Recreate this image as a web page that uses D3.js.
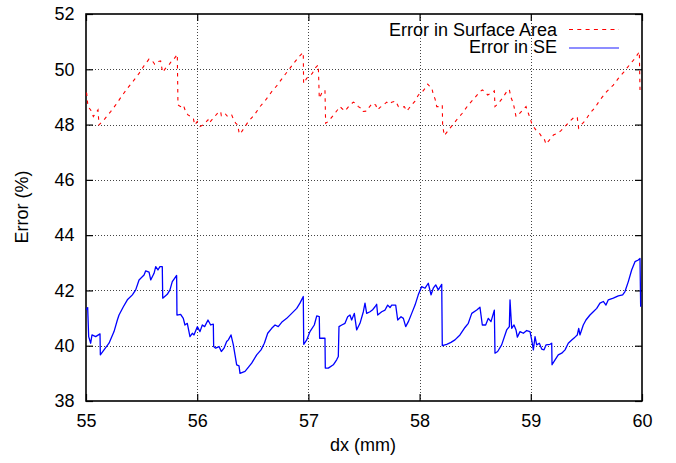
<!DOCTYPE html>
<html><head><meta charset="utf-8">
<script src="https://cdn.jsdelivr.net/npm/d3@7"></script>
<style>
body{margin:0;background:#fff;}
svg{display:block;font-family:"Liberation Sans",Arial,Helvetica,sans-serif;}
</style></head>
<body><svg id="chart" width="676" height="463"></svg>
<script>
const xTicks = [55, 56, 57, 58, 59, 60];
const yTicks = [38, 40, 42, 44, 46, 48, 50, 52];
const xLabel = "dx (mm)";
const yLabel = "Error (%)";
const seriesNames = ["Error in Surface Area", "Error in SE"];

const surfaceArea = [[55.000,49.15],[55.006,49.13],[55.018,48.65],[55.042,48.53],[55.066,48.29],[55.087,48.41],[55.108,48.53],[55.117,47.99],[55.162,48.17],[55.222,48.47],[55.267,48.71],[55.318,49.01],[55.372,49.31],[55.426,49.58],[55.477,49.85],[55.522,50.13],[55.567,50.37],[55.597,50.30],[55.618,50.18],[55.647,50.28],[55.671,50.30],[55.689,49.89],[55.716,50.04],[55.746,50.16],[55.776,50.34],[55.791,50.37],[55.821,50.54],[55.827,48.71],[55.851,48.65],[55.875,48.71],[55.896,48.47],[55.917,48.35],[55.941,48.29],[55.965,48.23],[55.977,47.99],[56.001,48.11],[56.025,47.93],[56.061,48.01],[56.097,48.17],[56.106,48.05],[56.157,48.29],[56.196,48.47],[56.211,48.47],[56.217,48.32],[56.250,48.40],[56.274,48.29],[56.310,48.35],[56.325,48.20],[56.346,48.05],[56.364,47.99],[56.376,47.72],[56.385,47.65],[56.424,47.89],[56.460,48.11],[56.514,48.35],[56.565,48.65],[56.616,48.89],[56.670,49.19],[56.721,49.43],[56.775,49.73],[56.829,50.01],[56.880,50.28],[56.916,50.46],[56.954,50.61],[56.957,49.49],[56.984,49.67],[57.035,49.85],[57.059,50.04],[57.089,50.16],[57.098,48.95],[57.119,49.13],[57.149,49.25],[57.155,48.05],[57.179,48.11],[57.203,48.23],[57.239,48.41],[57.284,48.65],[57.299,48.59],[57.329,48.49],[57.365,48.67],[57.404,48.81],[57.425,48.77],[57.449,48.65],[57.473,48.59],[57.485,48.47],[57.524,48.49],[57.539,48.59],[57.575,48.77],[57.605,48.71],[57.623,48.53],[57.644,48.62],[57.674,48.71],[57.704,48.81],[57.725,48.74],[57.749,48.81],[57.785,48.85],[57.809,48.65],[57.839,48.62],[57.863,48.65],[57.884,48.49],[57.905,48.59],[57.929,48.71],[57.959,48.85],[57.989,49.07],[58.025,49.19],[58.049,49.31],[58.073,49.46],[58.085,49.41],[58.109,49.34],[58.124,49.07],[58.139,48.93],[58.154,48.65],[58.174,48.65],[58.204,48.71],[58.207,47.99],[58.222,47.60],[58.273,47.87],[58.333,48.17],[58.384,48.41],[58.438,48.71],[58.492,48.95],[58.543,49.19],[58.564,49.25],[58.588,49.19],[58.612,49.07],[58.642,49.13],[58.672,49.22],[58.678,48.65],[58.708,48.77],[58.744,48.95],[58.783,49.19],[58.807,49.27],[58.819,49.01],[58.837,48.83],[58.849,48.65],[58.867,48.29],[58.888,48.35],[58.927,48.53],[58.957,48.65],[58.978,48.41],[58.993,48.23],[59.008,48.05],[59.023,47.93],[59.047,47.80],[59.077,47.69],[59.098,47.56],[59.119,47.50],[59.137,47.29],[59.167,47.44],[59.203,47.62],[59.239,47.68],[59.269,47.77],[59.308,47.93],[59.353,48.13],[59.397,48.29],[59.418,48.25],[59.430,47.87],[59.457,48.01],[59.487,48.13],[59.532,48.41],[59.577,48.61],[59.622,48.89],[59.682,49.19],[59.742,49.43],[59.787,49.67],[59.838,49.91],[59.892,50.18],[59.937,50.40],[59.967,50.58],[59.976,50.64],[59.982,49.25]];

const seError = [[55.000,41.30],[55.015,41.38],[55.024,40.33],[55.042,40.09],[55.054,40.39],[55.087,40.33],[55.126,40.43],[55.129,39.67],[55.162,39.85],[55.207,40.09],[55.252,40.51],[55.282,40.93],[55.297,41.11],[55.336,41.41],[55.372,41.66],[55.417,41.84],[55.447,42.02],[55.477,42.38],[55.522,42.56],[55.537,42.71],[55.567,42.66],[55.582,42.38],[55.612,42.62],[55.627,42.86],[55.647,42.74],[55.665,42.86],[55.686,42.86],[55.690,41.72],[55.731,41.86],[55.755,42.02],[55.776,42.32],[55.815,42.54],[55.818,41.11],[55.851,41.13],[55.875,40.99],[55.890,40.75],[55.911,40.81],[55.935,40.33],[55.956,40.45],[55.971,40.39],[56.001,40.69],[56.025,40.51],[56.046,40.75],[56.067,40.69],[56.097,40.93],[56.121,40.75],[56.145,40.78],[56.148,39.97],[56.166,39.91],[56.196,39.97],[56.217,39.79],[56.241,39.91],[56.265,40.15],[56.280,40.21],[56.304,40.39],[56.325,40.03],[56.340,39.67],[56.355,39.31],[56.376,39.27],[56.385,39.00],[56.430,39.07],[56.454,39.19],[56.490,39.37],[56.535,39.67],[56.574,39.85],[56.604,40.09],[56.634,40.45],[56.670,40.63],[56.700,40.75],[56.729,40.69],[56.765,40.87],[56.805,40.99],[56.850,41.17],[56.895,41.35],[56.924,41.54],[56.954,41.78],[56.958,40.05],[56.985,40.21],[57.014,40.51],[57.053,40.75],[57.075,41.08],[57.098,41.05],[57.101,40.27],[57.149,40.27],[57.152,39.19],[57.179,39.19],[57.224,39.31],[57.254,39.49],[57.269,39.61],[57.275,40.69],[57.300,40.75],[57.329,40.81],[57.353,41.05],[57.374,41.11],[57.389,40.93],[57.413,41.17],[57.434,40.57],[57.464,40.81],[57.494,41.23],[57.509,41.54],[57.524,41.17],[57.554,41.23],[57.575,41.29],[57.599,41.41],[57.614,41.50],[57.623,41.11],[57.659,41.23],[57.689,41.29],[57.713,41.47],[57.734,41.38],[57.749,41.47],[57.785,41.47],[57.803,40.93],[57.833,41.05],[57.854,40.99],[57.875,40.69],[57.899,40.87],[57.929,41.17],[57.959,41.47],[57.988,41.84],[58.019,42.14],[58.049,42.08],[58.078,42.26],[58.103,41.84],[58.123,42.08],[58.145,42.20],[58.168,42.02],[58.199,42.22],[58.204,40.00],[58.244,40.05],[58.282,40.12],[58.318,40.21],[58.363,40.39],[58.408,40.66],[58.438,40.81],[58.469,41.17],[58.514,41.29],[58.543,41.39],[58.564,40.75],[58.594,40.75],[58.618,40.99],[58.642,40.87],[58.672,41.29],[58.678,39.73],[58.702,39.79],[58.738,40.03],[58.783,40.57],[58.807,40.69],[58.813,41.66],[58.828,40.63],[58.849,40.75],[58.867,40.57],[58.879,40.31],[58.903,40.51],[58.933,40.45],[58.963,40.55],[58.993,40.51],[59.008,40.21],[59.023,39.85],[59.038,40.33],[59.053,40.03],[59.077,40.09],[59.098,39.88],[59.119,39.85],[59.137,40.03],[59.173,40.05],[59.188,40.09],[59.191,39.31],[59.218,39.49],[59.247,39.67],[59.278,39.73],[59.308,39.85],[59.337,40.09],[59.368,40.21],[59.397,40.31],[59.418,40.39],[59.431,40.63],[59.442,40.39],[59.472,40.75],[59.496,40.93],[59.532,41.11],[59.562,41.23],[59.593,41.35],[59.622,41.54],[59.652,41.60],[59.676,41.47],[59.697,41.66],[59.742,41.72],[59.787,41.80],[59.826,41.84],[59.847,41.96],[59.877,42.32],[59.907,42.74],[59.937,43.04],[59.967,43.10],[59.982,43.16],[59.988,41.41]];

const W = 676, H = 463;
const m = {left: 86, right: 642, top: 14, bottom: 401};
const svg = d3.select("#chart");
const x = d3.scaleLinear().domain([55, 60]).range([m.left, m.right]);
const y = d3.scaleLinear().domain([38, 52]).range([m.bottom, m.top]);

// grid
const grid = svg.append("g").attr("stroke", "#444").attr("stroke-width", 1)
  .attr("stroke-dasharray", "1,2").attr("shape-rendering", "crispEdges");
grid.selectAll(".gx").data(xTicks.slice(1, -1)).enter().append("line")
  .attr("x1", d => Math.round(x(d)) + 0.5).attr("x2", d => Math.round(x(d)) + 0.5)
  .attr("y1", m.top).attr("y2", m.bottom);
grid.selectAll(".gy").data(yTicks.slice(1, -1)).enter().append("line")
  .attr("y1", d => Math.round(y(d)) + 0.5).attr("y2", d => Math.round(y(d)) + 0.5)
  .attr("x1", m.left).attr("x2", m.right);

// axes with inward ticks
const fs = 18;
function styleAxis(g) {
  g.select(".domain").remove();
  g.selectAll("line").attr("stroke", "#000").attr("stroke-width", 1.2);
  g.selectAll("text").attr("fill", "#000").attr("font-size", fs)
    .attr("font-family", "'Liberation Sans',Arial,sans-serif");
}
svg.append("g").attr("transform", `translate(0,${m.bottom})`)
  .call(d3.axisBottom(x).tickValues(xTicks).tickFormat(d3.format("d")).tickSizeInner(-7).tickSizeOuter(0).tickPadding(13))
  .call(styleAxis);
svg.append("g").attr("transform", `translate(0,${m.top})`)
  .call(d3.axisTop(x).tickValues(xTicks).tickFormat("").tickSizeInner(-7).tickSizeOuter(0))
  .call(styleAxis);
svg.append("g").attr("transform", `translate(${m.left},0)`)
  .call(d3.axisLeft(y).tickValues(yTicks).tickFormat(d3.format("d")).tickSizeInner(-7).tickSizeOuter(0).tickPadding(11.5))
  .call(styleAxis);
svg.append("g").attr("transform", `translate(${m.right},0)`)
  .call(d3.axisRight(y).tickValues(yTicks).tickFormat("").tickSizeInner(-7).tickSizeOuter(0))
  .call(styleAxis);

// border
svg.append("rect").attr("x", m.left).attr("y", m.top)
  .attr("width", m.right - m.left).attr("height", m.bottom - m.top)
  .attr("fill", "none").attr("stroke", "#000").attr("stroke-width", 1.6);

// clip
svg.append("clipPath").attr("id", "clip").append("rect")
  .attr("x", m.left).attr("y", m.top).attr("width", m.right - m.left).attr("height", m.bottom - m.top);

const line = d3.line().x(d => x(d[0])).y(d => y(d[1]));
const plot = svg.append("g").attr("clip-path", "url(#clip)");
plot.append("path").datum(seError).attr("d", line)
  .attr("fill", "none").attr("stroke", "#0000ff").attr("stroke-width", 1.3).attr("stroke-linejoin", "round");
plot.append("path").datum(surfaceArea).attr("d", line)
  .attr("fill", "none").attr("stroke", "#ff0000").attr("stroke-width", 1.1)
  .attr("stroke-dasharray", "3.5,4.5");

// legend
const leg = svg.append("g").attr("font-size", fs).attr("fill", "#000");
leg.append("text").attr("x", 557).attr("y", 36).attr("text-anchor", "end").text(seriesNames[0]);
leg.append("text").attr("x", 557).attr("y", 53).attr("text-anchor", "end").text(seriesNames[1]);
leg.append("line").attr("x1", 569).attr("x2", 619).attr("y1", 29.5).attr("y2", 29.5)
  .attr("stroke", "#ff0000").attr("stroke-width", 1.1).attr("stroke-dasharray", "4,4.3");
leg.append("line").attr("x1", 569).attr("x2", 619).attr("y1", 48).attr("y2", 48)
  .attr("stroke", "#0000ff").attr("stroke-width", 1.3).attr("stroke-opacity", 0.6);

// axis titles
svg.append("text").attr("x", 363).attr("y", 450.5).attr("text-anchor", "middle")
  .attr("font-size", fs).text(xLabel);
svg.append("text").attr("transform", "translate(27.5,207) rotate(-90)").attr("text-anchor", "middle")
  .attr("font-size", fs).text(yLabel);
</script></body></html>
